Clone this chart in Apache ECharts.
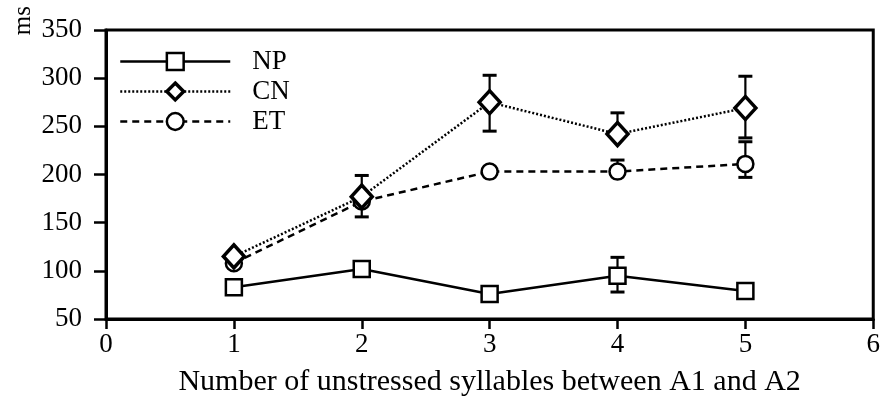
<!DOCTYPE html>
<html>
<head>
<meta charset="utf-8">
<script src="https://cdn.jsdelivr.net/npm/echarts@6/dist/echarts.min.js"></script>
<style>html,body{margin:0;padding:0;background:#fff}#c{width:883px;height:403px}</style>
</head>
<body>
<div id="c"></div>
<script>
var xValues = [1, 2, 3, 4, 5];
var npValues = [83, 102, 76, 95, 79];
var cnValues = [115, 177, 275, 242, 269];
var etValues = [108, 172, 203, 203, 211];
// error bar ends (null = not visible)
var npHigh = [null, null, null, 114, null];
var npLow  = [null, null, null, 78, null];
var cnHigh = [null, 199, 303, 264, 302];
var cnLow  = [null, 156, 245, null, 238];
var etHigh = [null, null, null, 215, 234];
var etLow  = [null, null, null, null, 197];
var yTicks = [50, 100, 150, 200, 250, 300, 350];
var xTicks = [0, 1, 2, 3, 4, 5, 6];

function pairs(ys){ return xValues.map(function(x,i){ return [x, ys[i]]; }); }
function errData(vals, hi, lo){
  var out = [];
  xValues.forEach(function(x,i){
    if (hi[i] != null) out.push([x, vals[i], hi[i]]);
    if (lo[i] != null) out.push([x, vals[i], lo[i]]);
  });
  return out;
}
function errSeries(vals, hi, lo){
  return {
    type: 'custom', silent: true, z: 1,
    data: errData(vals, hi, lo),
    renderItem: function(params, api){
      var p0 = api.coord([api.value(0), api.value(1)]);
      var p1 = api.coord([api.value(0), api.value(2)]);
      var hw = 7;
      return {
        type: 'group',
        children: [
          {type: 'line', shape: {x1: p0[0], y1: p0[1], x2: p1[0], y2: p1[1]}, style: {stroke: '#000', lineWidth: 2.2}},
          {type: 'line', shape: {x1: p1[0]-hw, y1: p1[1], x2: p1[0]+hw, y2: p1[1]}, style: {stroke: '#000', lineWidth: 3}}
        ]
      };
    }
  };
}

var font = 'Liberation Serif';
var chart = echarts.init(document.getElementById('c'), null, {renderer: 'canvas'});
chart.setOption({
  animation: false,
  backgroundColor: '#fff',
  grid: {left: 106, right: 6, top: 30, bottom: 84, show: true, borderColor: '#000', borderWidth: 3, backgroundColor: 'transparent'},
  legend: {
    orient: 'vertical', left: 114, top: 43, itemWidth: 110, itemHeight: 21, itemGap: 3,
    lineStyle: {width: 2.5},
    textStyle: {fontFamily: font, fontSize: 27, lineHeight: 26, color: '#000', padding: [0,0,0,17]},
    data: [
      {name: 'NP', itemStyle: {borderWidth: 2.5}},
      {name: 'CN', itemStyle: {borderWidth: 3.5}},
      {name: 'ET', itemStyle: {borderWidth: 2.5}}
    ]
  },
  xAxis: {
    type: 'value', min: xTicks[0], max: xTicks[xTicks.length-1], interval: 1,
    name: 'Number of unstressed syllables between A1 and A2',
    nameLocation: 'middle', nameGap: 48,
    nameTextStyle: {fontFamily: font, fontSize: 30, color: '#000'},
    axisLine: {lineStyle: {color: '#000', width: 3}},
    axisTick: {show: true, length: 10, lineStyle: {color: '#000', width: 2.5}},
    axisLabel: {fontFamily: font, fontSize: 27, color: '#000', margin: 12},
    splitLine: {show: false}
  },
  yAxis: {
    type: 'value', min: yTicks[0], max: yTicks[yTicks.length-1], interval: 50,
    axisLine: {show: true, lineStyle: {color: '#000', width: 3}},
    axisTick: {show: true, length: 12, lineStyle: {color: '#000', width: 2.5}},
    axisLabel: {fontFamily: font, fontSize: 27, color: '#000', margin: 24},
    splitLine: {show: false}
  },
  graphic: [{
    type: 'text', left: 11, top: 6, rotation: Math.PI/2,
    style: {text: 'ms', font: '25px "Liberation Serif"', fill: '#000'}
  }],
  series: [
    errSeries(npValues, npHigh, npLow),
    errSeries(cnValues, cnHigh, cnLow),
    errSeries(etValues, etHigh, etLow),
    {
      name: 'ET', type: 'line', data: pairs(etValues), z: 3,
      symbol: 'circle', symbolSize: 16,
      lineStyle: {color: '#000', width: 2.5, type: [7, 5]},
      itemStyle: {color: '#fff', borderColor: '#000', borderWidth: 2.5}
    },
    {
      name: 'CN', type: 'line', data: pairs(cnValues), z: 4,
      symbol: 'diamond', symbolSize: [21, 23],
      lineStyle: {color: '#000', width: 2.5, type: [2, 2]},
      itemStyle: {color: '#fff', borderColor: '#000', borderWidth: 3.5}
    },
    {
      name: 'NP', type: 'line', data: pairs(npValues), z: 5,
      symbol: 'rect', symbolSize: 16,
      lineStyle: {color: '#000', width: 2.5, type: 'solid'},
      itemStyle: {color: '#fff', borderColor: '#000', borderWidth: 2.5}
    }
  ]
});
</script>
</body>
</html>
